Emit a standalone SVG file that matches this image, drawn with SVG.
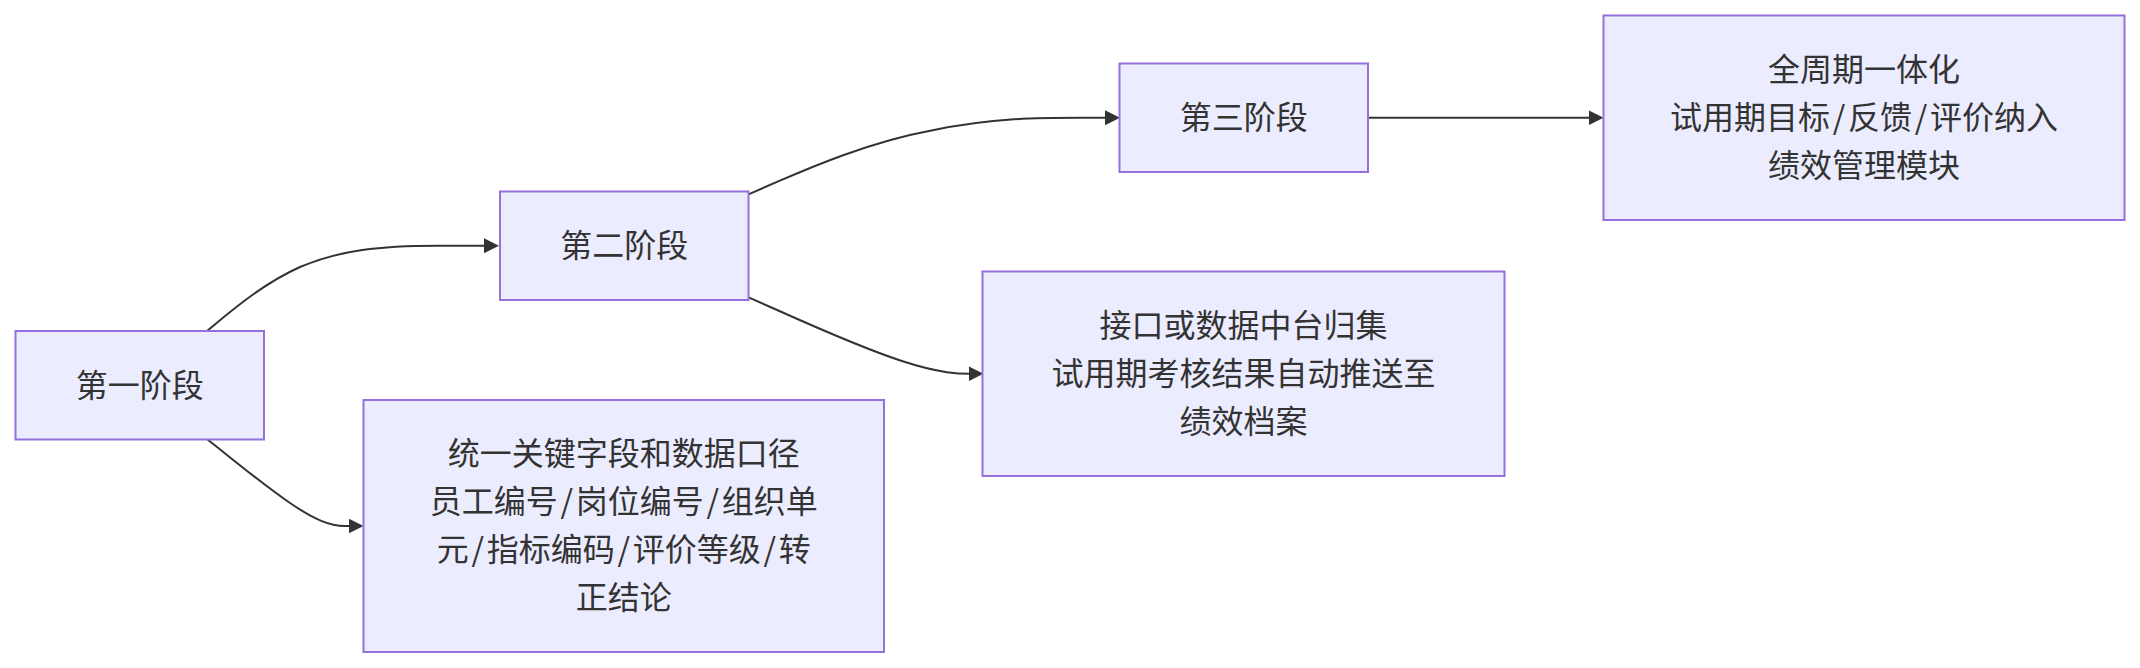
<svg xmlns="http://www.w3.org/2000/svg" width="2140" height="668" viewBox="0 0 2140 668">
<style>
.node rect{fill:#ECECFF;stroke:#9370DB;stroke-width:2}
.node text{font-family:"Noto Sans CJK SC",sans-serif;font-size:32px;fill:#333;text-anchor:middle;dominant-baseline:central}
.sl{letter-spacing:2.75px}
.edge{fill:none;stroke:#333;stroke-width:2}
</style>
<defs>
<marker id="arrow" viewBox="0 0 15 15" markerWidth="15" markerHeight="15" markerUnits="userSpaceOnUse" refX="11" refY="7.5" orient="auto">
<path d="M0,0 L15,7.5 L0,15 z" fill="#333"/>
</marker>
</defs>
<rect width="2140" height="668" fill="#ffffff"/>
<g id="connectors">
<path class="edge" marker-end="url(#arrow)" d="M207.5,330.5 C230,312 262,284 300,267 C340,250 380,245.75 438,245.75 L495,245.75"/>
<path class="edge" marker-end="url(#arrow)" d="M207.5,439.5 C230,457 262,484 290,503 C315,520 330,526 345,526 L359.5,526"/>
<path class="edge" marker-end="url(#arrow)" d="M748.5,194.3 L778.7,181.2 C808.9,168.1 869.3,141.9 931.4,130.5 C993.5,117.75 1040,117.75 1080,117.75 L1116,117.75"/>
<path class="edge" marker-end="url(#arrow)" d="M748.5,297.3 L777.1,310 C805.7,322.8 862.9,348.3 901.9,361 C940.9,373.75 960,373.75 970,373.75 L979.5,373.75"/>
<path class="edge" marker-end="url(#arrow)" d="M1368.5,117.75 L1599.5,117.75"/>
</g>
<g id="n1" class="node">
<rect x="15.5" y="331" width="248.5" height="108.5"/>
<text x="139.75" y="382.5">第一阶段</text>
</g>
<g id="n2" class="node">
<rect x="500" y="191.5" width="248.5" height="108.5"/>
<text x="624.25" y="243">第二阶段</text>
</g>
<g id="n3" class="node">
<rect x="1119.5" y="63.5" width="248.5" height="108.5"/>
<text x="1243.75" y="115">第三阶段</text>
</g>
<g id="n4" class="node">
<rect x="1603.5" y="15.5" width="521" height="204.5"/>
<text x="1864" y="67">全周期一体化</text>
<text x="1864" y="115">试用期目标<tspan class="sl" dx="2.75">/</tspan>反馈<tspan class="sl" dx="2.75">/</tspan>评价纳入</text>
<text x="1864" y="163">绩效管理模块</text>
</g>
<g id="n5" class="node">
<rect x="982.5" y="271.5" width="522" height="204.5"/>
<text x="1243.5" y="323">接口或数据中台归集</text>
<text x="1243.5" y="371">试用期考核结果自动推送至</text>
<text x="1243.5" y="419">绩效档案</text>
</g>
<g id="n6" class="node">
<rect x="363.5" y="400" width="520.5" height="252"/>
<text x="623.75" y="451">统一关键字段和数据口径</text>
<text x="623.75" y="499">员工编号<tspan class="sl" dx="2.75">/</tspan>岗位编号<tspan class="sl" dx="2.75">/</tspan>组织单</text>
<text x="623.75" y="547">元<tspan class="sl" dx="2.75">/</tspan>指标编码<tspan class="sl" dx="2.75">/</tspan>评价等级<tspan class="sl" dx="2.75">/</tspan>转</text>
<text x="623.75" y="595">正结论</text>
</g>
</svg>
